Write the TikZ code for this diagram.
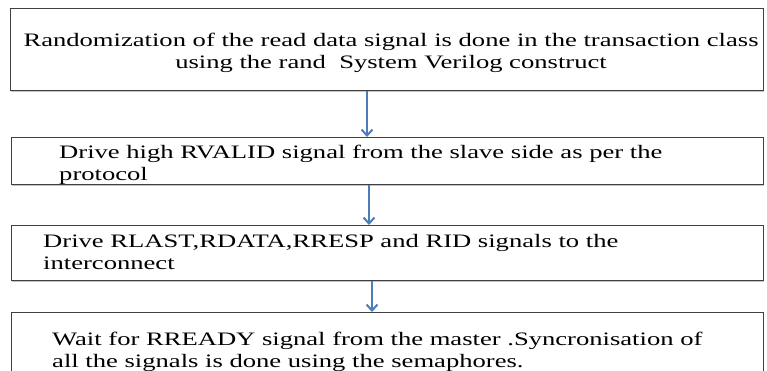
\documentclass[tikz,border=0pt]{standalone}
\usepackage{graphicx}
\usepackage{fontspec}
\setmainfont{Liberation Serif}
\usetikzlibrary{arrows.meta,shadows}
\definecolor{arrowblue}{RGB}{74,126,187}
\definecolor{boxline}{RGB}{64,64,64}
% wide-set text block; the baseline is that of the first line
\newcommand{\widetext}[2][l]{\scalebox{1.4}[1]{\begin{tabular}[t]{@{}#1@{}}#2\end{tabular}}}
\begin{document}
\begin{tikzpicture}[x=1pt,y=-1pt,
  stepbox/.style={draw=boxline, line width=1.2pt, fill=white, inner sep=0pt,
    anchor=north west,
    drop shadow={shadow xshift=0.8pt, shadow yshift=-1.2pt, fill=black!45, opacity=0.5}},
  txt/.style={font=\fontsize{19}{22}\selectfont, inner sep=0pt, anchor=base west},
  flow/.style={draw=arrowblue, line width=2pt, -{Straight Barb[length=6pt,width=11pt]}}]
\useasboundingbox (0,0) rectangle (767,371);
\clip (0,0) rectangle (767,371);

% process boxes
\node[stepbox, minimum width=753pt, minimum height=82pt] (b1) at (10,8) {};
\node[stepbox, minimum width=752pt, minimum height=47pt] (b2) at (11,137) {};
\node[stepbox, minimum width=752pt, minimum height=55pt] (b3) at (11,225) {};
\node[stepbox, minimum width=752pt, minimum height=90pt] (b4) at (11,312) {};

% box texts
\node[txt, anchor=base] (t1) at (391,47)
  {\widetext[c]{Randomization of the read data signal is done in the transaction class\\using the rand~ System Verilog construct}};
\node[txt] (t2) at (59,159)
  {\widetext{Drive high RVALID signal from the slave side as per the\\protocol}};
\node[txt] (t3) at (43,247)
  {\widetext{Drive RLAST,RDATA,RRESP and RID signals to the\\interconnect}};
\node[txt] (t4) at (52,345)
  {\widetext{Wait for RREADY signal from the master .Syncronisation of\\all the signals is done using the semaphores.}};

% connectors
\coordinate (x1) at (367,0);
\coordinate (x2) at (369,0);
\coordinate (x3) at (372,0);
\draw[flow] (b1.south -| x1) -- (b2.north -| x1);
\draw[flow] (b2.south -| x2) -- (b3.north -| x2);
\draw[flow] (b3.south -| x3) -- (b4.north -| x3);
\end{tikzpicture}
\end{document}
